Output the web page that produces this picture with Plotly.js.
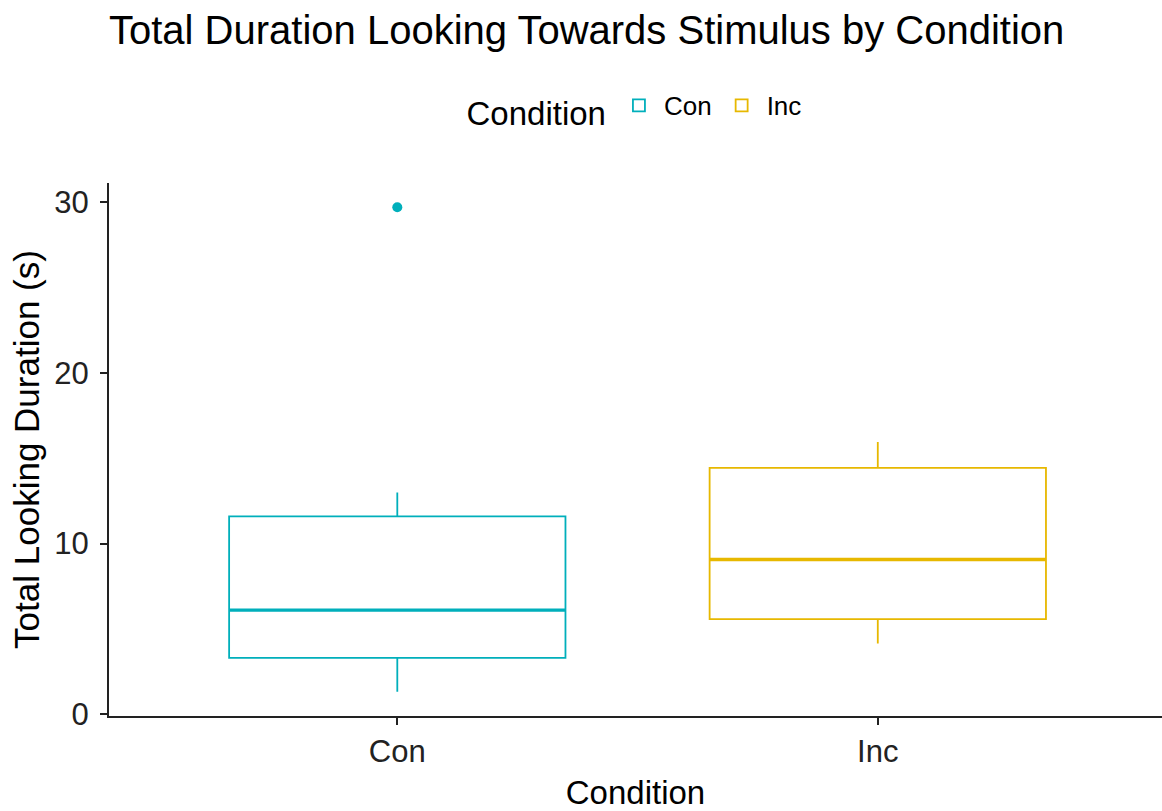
<!DOCTYPE html>
<html>
<head>
<meta charset="utf-8">
<script src="https://cdn.plot.ly/plotly-3.0.1.min.js"></script>
<style>html,body{margin:0;padding:0;background:#fff;}#chart{width:1162px;height:811px;}</style>
</head>
<body>
<div id="chart"></div>
<script>
// Data
const categories = ['Con', 'Inc'];
const colors = ['#00AFBB', '#E7B800'];
const lowerWhisker = [1.31, 4.14];
const q1 = [3.30, 5.57];
const median = [6.10, 9.07];
const q3 = [11.59, 14.44];
const upperWhisker = [13.0, 15.96];
const outlierCategory = ['Con'];
const outlierValue = [29.72];
const yTicks = [0, 10, 20, 30];

const FONT = 'Liberation Sans, Arial, sans-serif';
const traces = [];
categories.forEach((c, i) => {
  traces.push({
    type: 'box', name: c, x: [c],
    q1: [q1[i]], median: [median[i]], q3: [q3[i]],
    lowerfence: [lowerWhisker[i]], upperfence: [upperWhisker[i]],
    width: 0.7, whiskerwidth: 0,
    line: {color: colors[i], width: 1.8},
    fillcolor: 'rgba(255,255,255,0)',
    boxpoints: false, hoverinfo: 'skip'
  });
});
// thicker median lines (ggplot fatten)
categories.forEach((c, i) => {
  traces.push({
    type: 'box', name: c, x: [c], showlegend: false,
    q1: [median[i]], median: [median[i]], q3: [median[i]],
    lowerfence: [median[i]], upperfence: [median[i]],
    width: 0.7, whiskerwidth: 0,
    line: {color: colors[i], width: 3.4},
    fillcolor: 'rgba(255,255,255,0)',
    boxpoints: false, hoverinfo: 'skip'
  });
});
traces.push({
  type: 'scatter', mode: 'markers', x: outlierCategory, y: outlierValue,
  marker: {color: colors[0], size: 10}, showlegend: false, hoverinfo: 'skip'
});

const layout = {
  width: 1162, height: 811,
  margin: {l: 109, r: 0, t: 183, b: 95},
  paper_bgcolor: '#fff', plot_bgcolor: '#fff',
  font: {family: FONT, color: '#000'},
  boxmode: 'overlay',
  title: {text: 'Total Duration Looking Towards Stimulus by Condition',
          font: {size: 40, color: '#000', family: FONT},
          x: 0, xref: 'paper', xanchor: 'left', y: 1 - 30/811, yref: 'container', yanchor: 'middle'},
  xaxis: {
    type: 'category', categoryarray: categories, range: [-0.6, 1.5915],
    showline: true, linecolor: '#222', linewidth: 2, showgrid: false, zeroline: false,
    ticks: 'outside', ticklen: 7, tickwidth: 2, tickcolor: '#222',
    tickfont: {size: 31, color: '#222'},
    title: {text: 'Condition', font: {size: 33, color: '#000'}, standoff: 15}
  },
  yaxis: {
    range: [-0.11, 31.14], tickvals: yTicks, ticktext: yTicks.map(String),
    showline: true, linecolor: '#222', linewidth: 2, showgrid: false, zeroline: false,
    ticks: 'outside', ticklen: 7, tickwidth: 2, tickcolor: '#222',
    ticklabelstandoff: 5,
    tickfont: {size: 31, color: '#222'},
    title: {text: 'Total Looking Duration (s)', font: {size: 35, color: '#000'}, standoff: 4}
  },
  showlegend: true,
  legend: {
    orientation: 'h', x: 0.5, xanchor: 'center', y: 1.14, yanchor: 'middle',
    valign: 'bottom',
    title: {text: 'Condition', font: {size: 33, color: '#000'}, side: 'left'},
    font: {size: 26, color: '#000'}, itemwidth: 40
  }
};
Plotly.newPlot('chart', traces, layout, {displayModeBar: false, staticPlot: true});
</script>
</body>
</html>
